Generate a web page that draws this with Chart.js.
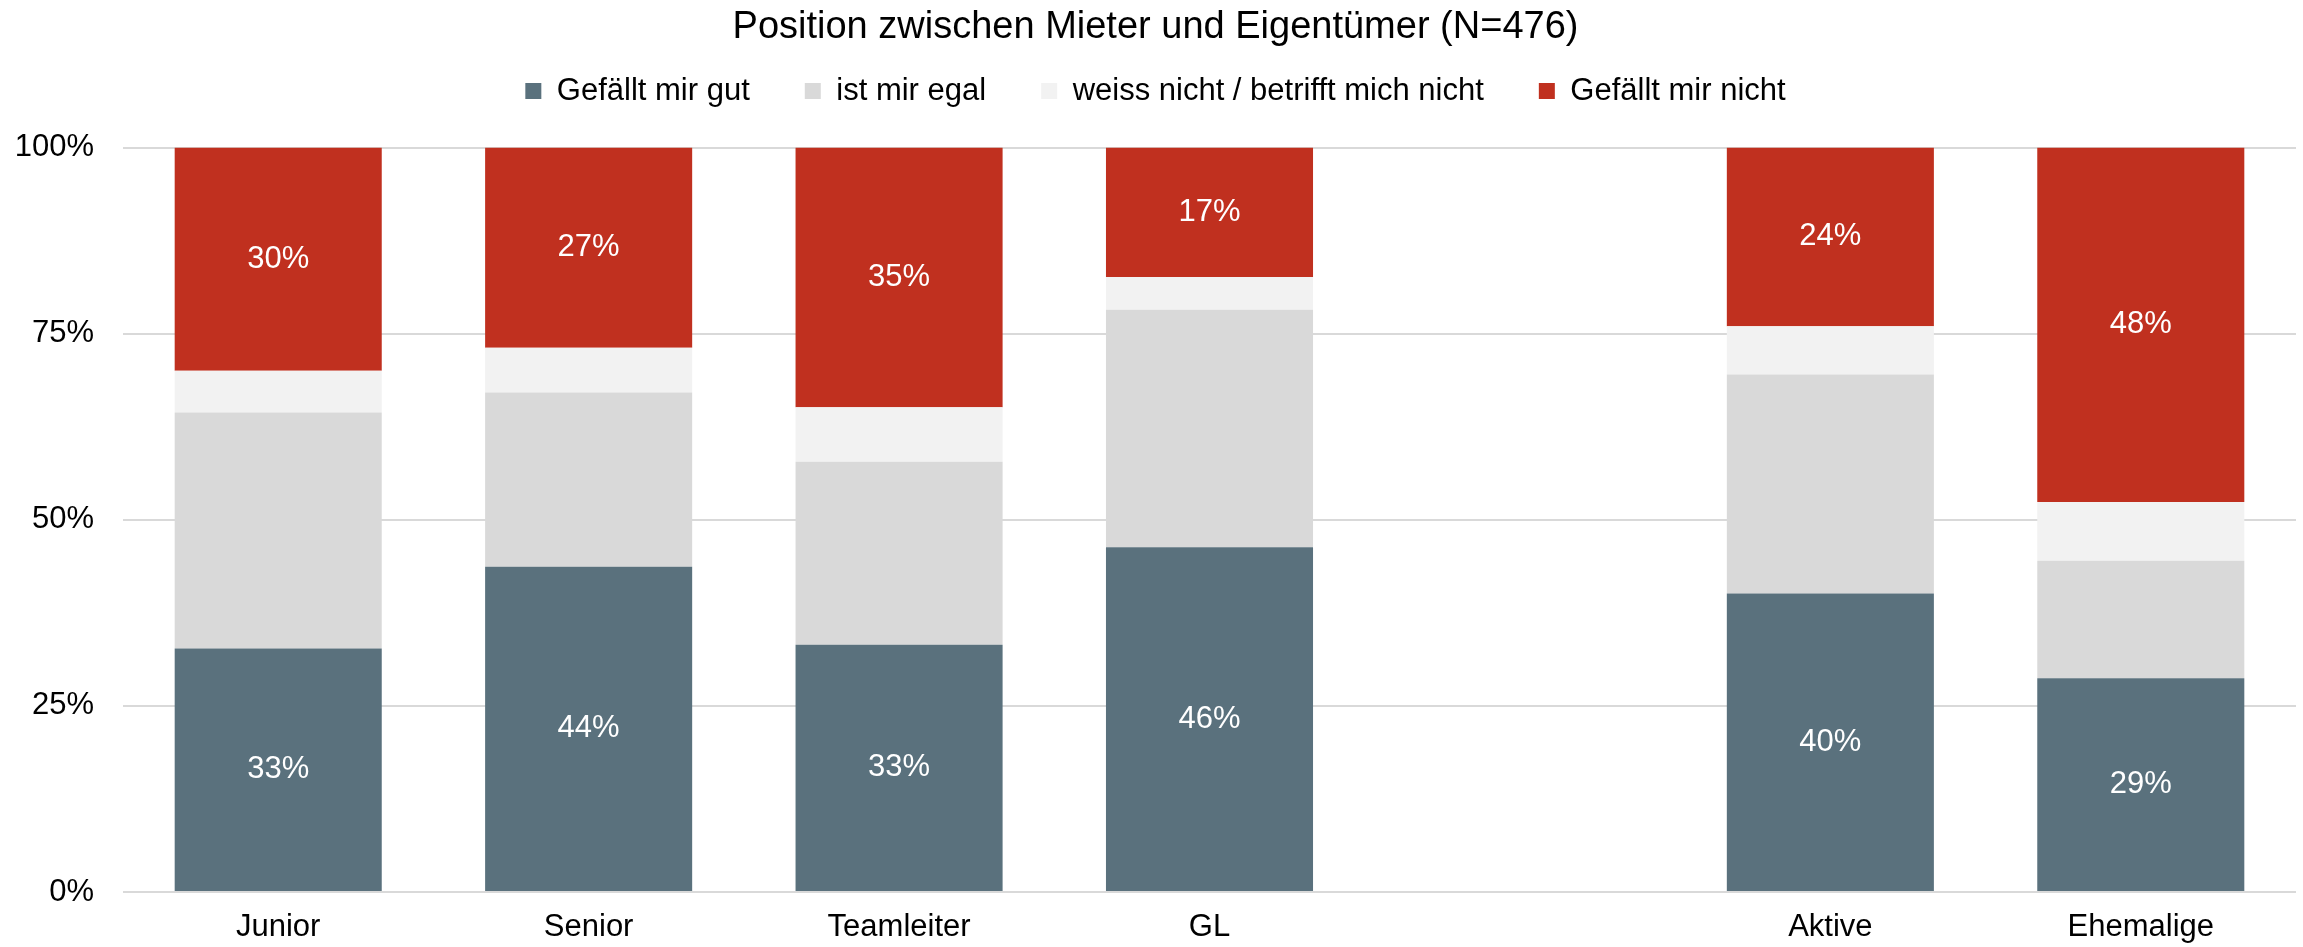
<!DOCTYPE html>
<html>
  <head>
    <meta charset="utf-8">
    <script src="https://cdn.jsdelivr.net/npm/chart.js@4.4.1/dist/chart.umd.min.js"></script>
  </head>

  <style>
    body {
        margin: 0;
        background-color: white;
    }
    .chart {
        width: 2303px;
        height: 947px;
    }
  </style>

  <body>
    <div class="chart"><canvas id="bar-position"></canvas></div>

<script>

  // categories (empty slot between GL and Aktive is a gap in the original)
  const categories = ['Junior', 'Senior', 'Teamleiter', 'GL', '', 'Aktive', 'Ehemalige'];

  // shares in percent, bottom to top
  const gefaelltGut   = [32.7, 43.7, 33.2, 46.3, null, 40.1, 28.7];
  const egal          = [31.7, 23.4, 24.6, 31.9, null, 29.4, 15.8];
  const weissNicht    = [5.6, 6.0, 7.3, 4.4, null, 6.5, 7.9];
  const gefaelltNicht = [30.0, 26.9, 34.9, 17.4, null, 24.0, 47.6];

  const seriesNames = ['Gefällt mir gut', 'ist mir egal', 'weiss nicht / betrifft mich nicht', 'Gefällt mir nicht'];
  const yTicks = [0, 25, 50, 75, 100];

  const FONT = "'Liberation Sans', Arial, sans-serif";

  //adds some room under the legend
  const legendMargin = {
      id: 'legendMargin',
      beforeInit(chart) {
          const fit = chart.legend.fit;
          chart.legend.fit = function() {
              fit.bind(chart.legend)();
              this.height += 31;
          };
      }
  };

  //writes the percentages into the blue and red segments
  const segmentLabels = {
      id: 'segmentLabels',
      afterDatasetsDraw(chart) {
          const ctx = chart.ctx;
          ctx.save();
          ctx.font = '31px ' + FONT;
          ctx.fillStyle = '#ffffff';
          ctx.textAlign = 'center';
          ctx.textBaseline = 'middle';
          [0, 3].forEach(function(d) {
              const meta = chart.getDatasetMeta(d);
              const values = chart.data.datasets[d].data;
              meta.data.forEach(function(bar, i) {
                  if (values[i] == null) return;
                  const p = bar.getProps(['x', 'y', 'base'], true);
                  ctx.fillText(Math.round(values[i]) + '%', p.x, (p.y + p.base) / 2);
              });
          });
          ctx.restore();
      }
  };

  new Chart(document.getElementById('bar-position'), {
      type: 'bar',
      data: {
          labels: categories,
          datasets: [
              { label: seriesNames[0], data: gefaelltGut, backgroundColor: '#5a717d' },
              { label: seriesNames[1], data: egal, backgroundColor: '#d9d9d9' },
              { label: seriesNames[2], data: weissNicht, backgroundColor: '#f2f2f2' },
              { label: seriesNames[3], data: gefaelltNicht, backgroundColor: '#c0301f' }
          ]
      },
      options: {
          responsive: true,
          maintainAspectRatio: false,
          animation: false,
          borderWidth: 0,
          categoryPercentage: 1,
          barPercentage: 0.667,
          layout: {
              padding: { left: 15, right: 7, top: 0, bottom: 1 }
          },
          plugins: {
              title: {
                  display: true,
                  text: 'Position zwischen Mieter und Eigentümer (N=476)',
                  color: '#000',
                  font: { family: FONT, size: 38, weight: 'normal' },
                  padding: { top: 4.5, bottom: -29.6 }
              },
              legend: {
                  position: 'top',
                  labels: {
                      color: '#000',
                      font: { family: FONT, size: 31 },
                      boxWidth: 16,
                      boxHeight: 16,
                      padding: 55
                  }
              },
              tooltip: { enabled: false }
          },
          scales: {
              x: {
                  stacked: true,
                  grid: { display: false, drawTicks: false },
                  border: { display: false },
                  ticks: {
                      color: '#000',
                      font: { family: FONT, size: 31 },
                      padding: 17
                  },
                  afterFit: function(axis) {
                      axis.height = 54;
                  }
              },
              y: {
                  stacked: true,
                  min: 0,
                  max: 100,
                  afterBuildTicks: function(axis) {
                      axis.ticks = yTicks.map(v => ({ value: v }));
                  },
                  grid: { color: '#d9d9d9', lineWidth: 2, drawTicks: false },
                  border: { display: false },
                  ticks: {
                      color: '#000',
                      font: { family: FONT, size: 31 },
                      padding: 29,
                      callback: v => v + '%'
                  },
                  afterFit: function(axis) {
                      axis.width = 108;
                  }
              }
          }
      },
      plugins: [legendMargin, segmentLabels]
  });

</script>

</body>
</html>
